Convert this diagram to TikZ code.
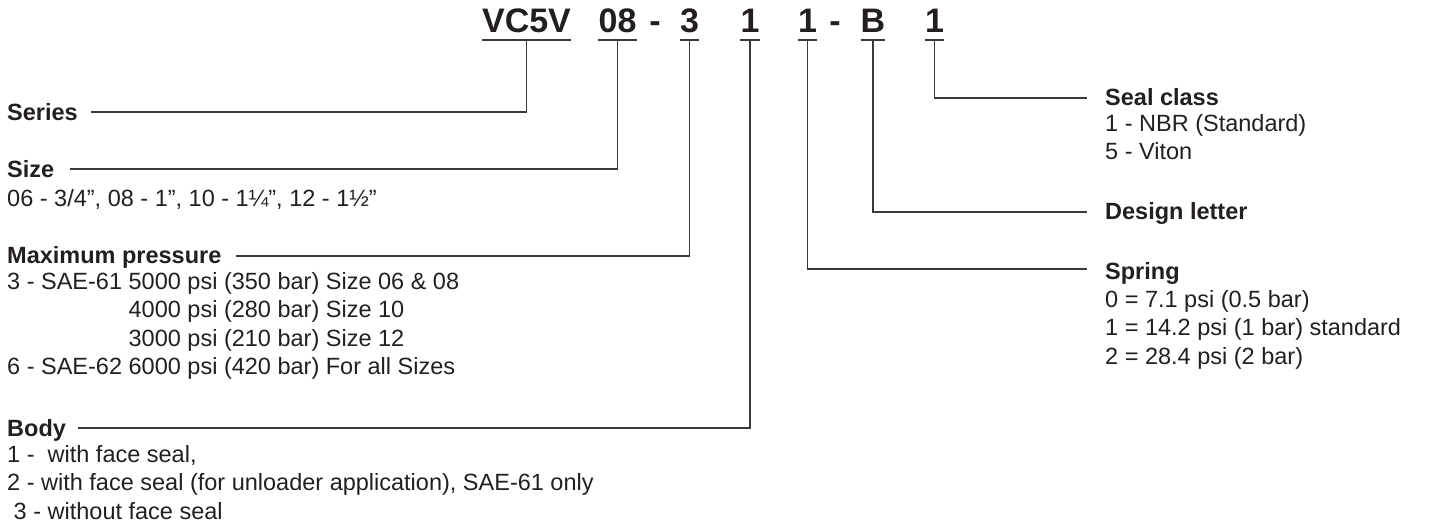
\documentclass[tikz,border=0pt]{standalone}
\usepackage{fontspec}
\setmainfont{Liberation Sans}

\definecolor{inkblack}{HTML}{231F20}
\definecolor{legline}{HTML}{3A3A3A}

\newcommand{\codefont}{\bfseries\fontsize{34}{34}\selectfont}
\newcommand{\headfont}{\bfseries\fontsize{23.5}{28.5}\selectfont}
\newcommand{\descfont}{\fontsize{23.5}{28.5}\selectfont}

\tikzset{
  codepart/.style={font=\codefont, text=inkblack, inner sep=0pt, anchor=base},
  head/.style={font=\headfont, text=inkblack, inner sep=0pt, anchor=base west},
  desc/.style={font=\descfont, text=inkblack, inner sep=0pt, anchor=north west,
    align=left, execute at begin node=\strut},
  leg/.style={draw=legline, line width=1.4pt},
}

\begin{document}
\begin{tikzpicture}[x=1pt, y=-1pt]
    \useasboundingbox (0,0) rectangle (1433,530);

    % ordering code
    \node[codepart] (vc5v)    at (526.5,32) {VC5V};
    \node[codepart] (size08)  at (617.5,32) {08};
    \node[codepart] (dashA)   at (655,32)   {-};
    \node[codepart] (press3)  at (689.5,32) {3};
    \node[codepart] (body1)   at (750,32)   {1};
    \node[codepart] (spring1) at (807.5,32) {1};
    \node[codepart] (dashB)   at (835,32)   {-};
    \node[codepart] (designB) at (873,32)   {B};
    \node[codepart] (seal1)   at (934.5,32) {1};

    \foreach \p in {vc5v,size08,press3,body1,spring1,designB,seal1}
        \draw[leg] ([yshift=-8pt]\p.base west) -- ([yshift=-8pt]\p.base east);

    % left column
    \node[head] (series) at (7,120) {Series};
    \node[head] (size) at (7,177) {Size};
    \node[desc] (sizetxt) at (7,186) {06 - 3/4”, 08 - 1”, 10 - 1¼”, 12 - 1½”};
    \node[head] (press) at (7,263) {Maximum pressure};
    \node[desc] (presstxt) at (7,272) {3 - SAE-61 5000 psi (350 bar) Size 06 \& 08\\
        \hphantom{3 - SAE-61\ }4000 psi (280 bar) Size 10\\
        \hphantom{3 - SAE-61\ }3000 psi (210 bar) Size 12\\
        6 - SAE-62 6000 psi (420 bar) For all Sizes};
    \node[head] (body) at (7,436) {Body};
    \node[desc] (bodytxt) at (7,445) {1 -\ \ with face seal,\\
        2 - with face seal (for unloader application), SAE-61 only\\
        \ 3 - without face seal};

    % right column
    \node[head] (seal) at (1105,105) {Seal class};
    \node[desc] (sealtxt) at (1105,114) {1 - NBR (Standard)\\5 - Viton};
    \node[head] (design) at (1105,219) {Design letter};
    \node[head] (spring) at (1105,279) {Spring};
    \node[desc] (springtxt) at (1105,290) {0 = 7.1 psi (0.5 bar)\\
        1 = 14.2 psi (1 bar) standard\\
        2 = 28.4 psi (2 bar)};

    % legs
    \draw[leg] ([yshift=-8pt]vc5v.base) |- ([xshift=13pt,yshift=8pt]series.base east);
    \draw[leg] ([yshift=-8pt]size08.base) |- ([xshift=16pt,yshift=8pt]size.base east);
    \draw[leg] ([yshift=-8pt]press3.base) |- ([xshift=14pt,yshift=7pt]press.base east);
    \draw[leg] ([yshift=-8pt]body1.base) |- ([xshift=12pt,yshift=8pt]body.base east);
    \draw[leg] ([yshift=-8pt]seal1.base) |- ([xshift=-18pt,yshift=7pt]seal.base west);
    \draw[leg] ([yshift=-8pt]designB.base) |- ([xshift=-18pt,yshift=7pt]design.base west);
    \draw[leg] ([yshift=-8pt]spring1.base) |- ([xshift=-18pt,yshift=10pt]spring.base west);
\end{tikzpicture}
\end{document}
